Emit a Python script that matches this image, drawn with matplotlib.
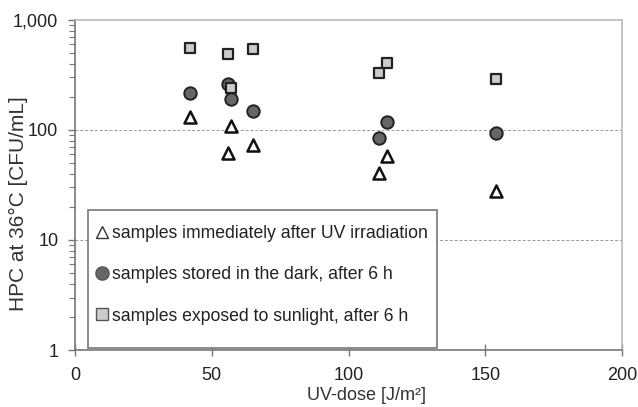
import matplotlib
matplotlib.use("Agg")
import matplotlib.pyplot as plt
from matplotlib.ticker import FixedLocator, LogLocator, NullFormatter, FuncFormatter
from matplotlib.lines import Line2D
from matplotlib.patches import Rectangle

plt.rcParams['font.family'] = ['Liberation Sans', 'DejaVu Sans']

uv_dose = [42, 56, 57, 65, 111, 114, 154]
immediate = [131, 62, 109, 73, 41, 58, 28]
dark_6h = [218, 260, 190, 149, 85, 119, 94]
sun_6h = [553, 491, 241, 545, 328, 409, 289]

labels = ["samples immediately after UV irradiation",
          "samples stored in the dark, after 6 h",
          "samples exposed to sunlight, after 6 h"]

fig = plt.figure(figsize=(6.38, 4.07), dpi=100)
ax = fig.add_axes([0.1176, 0.140, 0.8574, 0.811])

ax.scatter(uv_dose, dark_6h, marker='o', s=80, facecolor='#666666', edgecolor='#222222', linewidth=1.4, zorder=3)
ax.scatter(uv_dose, sun_6h, marker='s', s=62, facecolor='#cccccc', edgecolor='#222222', linewidth=1.6, zorder=4)
ax.scatter(uv_dose, immediate, marker='^', s=75, facecolor='white', edgecolor='#111111', linewidth=1.8, zorder=5)

ax.set_yscale('log')
ax.set_ylim(1, 1000)
ax.set_xlim(0, 200)
ax.set_xticks([0, 50, 100, 150, 200])
ax.yaxis.set_major_locator(FixedLocator([1, 10, 100, 1000]))
ax.yaxis.set_minor_locator(LogLocator(base=10, subs=range(2, 10)))
ax.yaxis.set_minor_formatter(NullFormatter())
ax.yaxis.set_major_formatter(FuncFormatter(lambda v, p: f"{int(round(v)):,}"))

for yv in [10, 100]:
    ax.axhline(yv, color='#999999', linestyle=(0, (3, 2)), linewidth=0.7, zorder=1)

for s in ['top', 'right']:
    ax.spines[s].set_color('#bbbbbb')
    ax.spines[s].set_linewidth(1.2)
for s in ['left', 'bottom']:
    ax.spines[s].set_color('#777777')
    ax.spines[s].set_linewidth(1.2)

ax.tick_params(axis='x', which='major', direction='inout', length=9, width=1, color='#777777',
               labelsize=13, pad=8, labelcolor='#222222')
ax.tick_params(axis='y', which='major', direction='out', length=5, width=1, color='#777777',
               labelsize=13, pad=7, labelcolor='#222222')
ax.tick_params(axis='y', which='minor', direction='out', length=4, width=0.8, color='#777777')

fig.text(367 / 638, 1 - 396 / 407, "UV-dose [J/m²]", fontsize=13, color='#333333',
         ha='center', va='center')
fig.text(18 / 638, 1 - 204 / 407, "HPC at 36°C [CFU/mL]", fontsize=15, color='#333333',
         ha='center', va='center', rotation=90)

# legend frame
ax.add_patch(Rectangle((0.0238, 0.006), 0.638, 0.418, transform=ax.transAxes,
                       facecolor='white', edgecolor='#777777', linewidth=1.2, zorder=6))

handles = [
    Line2D([], [], marker='^', linestyle='none', markersize=8, markerfacecolor='white', markeredgecolor='#333333', markeredgewidth=1.0),
    Line2D([], [], marker='o', linestyle='none', markersize=9.5, markerfacecolor='#666666', markeredgecolor='#555555', markeredgewidth=1.0),
    Line2D([], [], marker='s', linestyle='none', markersize=8.5, markerfacecolor='#cccccc', markeredgecolor='#555555', markeredgewidth=1.0),
]
leg = ax.legend(handles, labels, loc='upper left', bbox_to_anchor=(0.040, 0.378), fontsize=12.7,
                frameon=False, handlelength=0.6, handletextpad=0.26, labelspacing=1.37,
                borderpad=0, borderaxespad=0)
leg.set_zorder(7)
for t in leg.get_texts():
    t.set_color('#222222')

fig.savefig("out.png", dpi=100)
